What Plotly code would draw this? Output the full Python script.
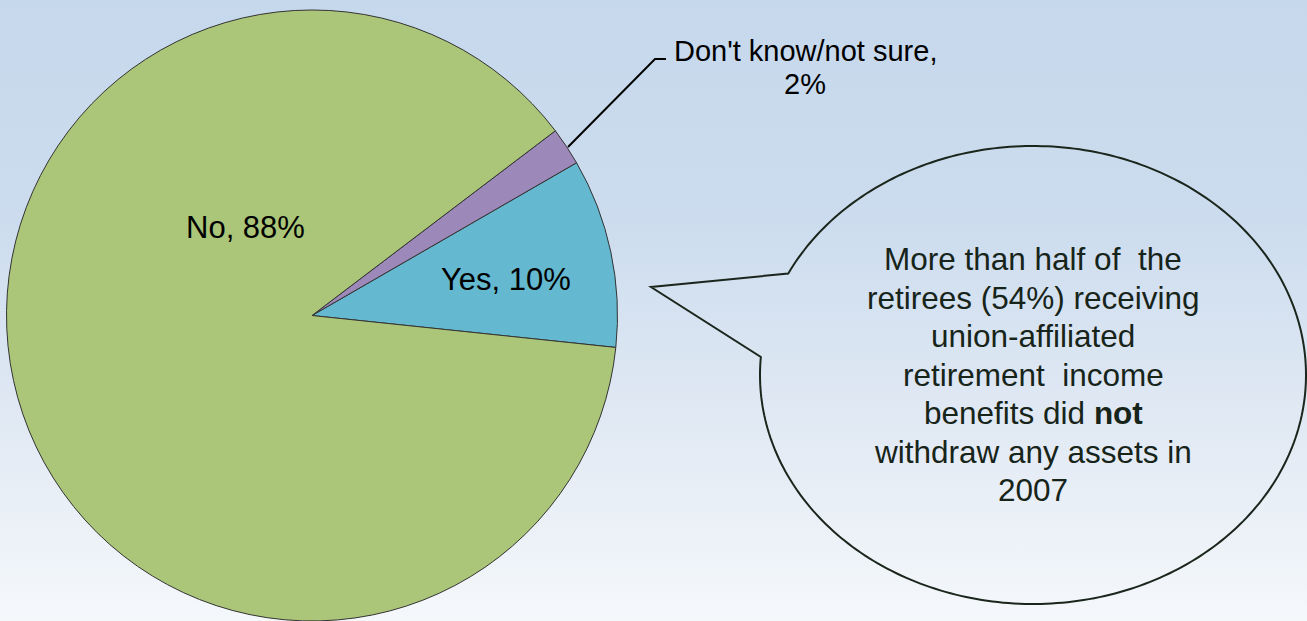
import numpy as np
import plotly.graph_objects as go

# ---- data ----
labels = ["Yes", "Don't know/not sure", "No"]
values = [10, 2, 88]
colors = ["#64B8CF", "#9C88B9", "#ABC678"]
callout_lines = [
    "More than half of\u00a0 the",
    "retirees (54%) receiving",
    "union-affiliated",
    "retirement\u00a0 income",
    "benefits did <b>not</b>",
    "withdraw any assets in",
    "2007",
]

W, H = 1307, 621
fig = go.Figure()

# background gradient
fig.add_trace(go.Scatter(
    x=[0, W, W, 0, 0], y=[0, 0, H, H, 0], mode="lines", fill="toself",
    line=dict(width=0), hoverinfo="skip", showlegend=False,
    fillgradient=dict(type="vertical", start=0, stop=H,
                      colorscale=[[0, "#C6D8EC"], [0.35, "#CCDCEE"],
                                  [0.7, "#E2EAF4"], [1, "#F5F8FB"]]),
))

# pie
cx, cy, r = 312, 316, 306
fig.add_trace(go.Pie(
    labels=labels, values=values, sort=False, direction="counterclockwise",
    rotation=60, textinfo="none", hoverinfo="label+percent",
    marker=dict(colors=colors, line=dict(color="#333333", width=1)),
    domain=dict(x=[(cx - r) / W, (cx + r) / W],
                y=[max(0, (H - cy - r) / H), min(1, (H - cy + r) / H)]),
    showlegend=False,
))

# pie labels
font_lbl = dict(family="Liberation Sans, Arial, sans-serif", size=31, color="#000000")
ann = []
ann.append(dict(x=245, y=227, text=f"{labels[2]}, {values[2]}%"))
ann.append(dict(x=506, y=279, text=f"{labels[0]}, {values[0]}%"))
ann.append(dict(x=805, y=51, text=f"{labels[1]},", font=dict(font_lbl, size=29)))
ann.append(dict(x=805, y=84, text=f"{values[1]}%", font=dict(font_lbl, size=29)))
annotations = []
for a in ann:
    d = dict(xref="x", yref="y", showarrow=False, xanchor="center", yanchor="middle",
             font=font_lbl)
    d.update(a)
    annotations.append(d)

# callout text
font_call = dict(family="Liberation Sans, Arial, sans-serif", size=31.5, color="#17241A")
for i, t in enumerate(callout_lines):
    annotations.append(dict(x=1033, y=259 + 38.5 * i, text=t, xref="x", yref="y",
                            showarrow=False, xanchor="center", yanchor="middle",
                            font=font_call))

# speech bubble path
ex, ey, erx, ery = 1033, 375, 273, 229
t = np.radians(np.linspace(206.3, 544.5, 300))
px = ex + erx * np.cos(t)
py = ey + ery * np.sin(t)
path = "M " + " L ".join(f"{a:.2f},{b:.2f}" for a, b in zip(px, py))
path += " L 651,287 Z"

shapes = [
    dict(type="path", path=path, xref="x", yref="y",
         line=dict(color="#1A261C", width=2), fillcolor="rgba(0,0,0,0)"),
    dict(type="path", path="M 568,147 L 655,59 L 666,59", xref="x", yref="y",
         line=dict(color="#000000", width=2)),
]

fig.update_layout(
    width=W, height=H, margin=dict(l=0, r=0, t=0, b=0),
    paper_bgcolor="#D6E2F0", plot_bgcolor="rgba(0,0,0,0)",
    xaxis=dict(range=[0, W], visible=False, fixedrange=True),
    yaxis=dict(range=[H, 0], visible=False, fixedrange=True),
    shapes=shapes, annotations=annotations, showlegend=False,
)

fig.write_html(
    "out.html",
    config={"displayModeBar": False},
    post_script="document.body.style.margin='0';document.body.style.padding='0';"
                "document.body.style.overflow='hidden';",
)
